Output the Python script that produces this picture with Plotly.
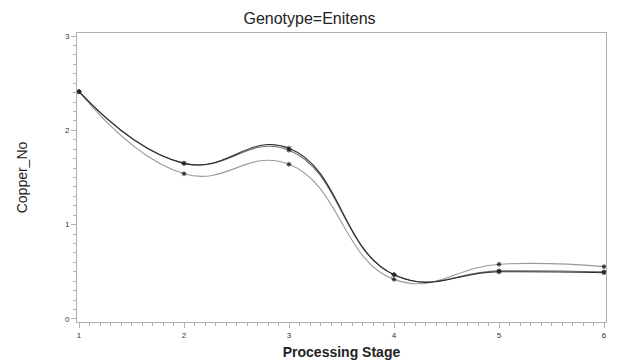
import plotly.graph_objects as go

# Mean copper number per processing stage, one line per group
stages = [1, 2, 3, 4, 5, 6]
series_a = [2.41, 1.65, 1.81, 0.47, 0.50, 0.49]
series_b = [2.41, 1.65, 1.79, 0.47, 0.51, 0.50]
series_c = [2.41, 1.54, 1.64, 0.42, 0.58, 0.555]

line_colors = ["#2a2a2a", "#707070", "#9a9a9a"]

fig = go.Figure()
for vals, col in zip([series_c, series_b, series_a], line_colors[::-1]):
    fig.add_trace(go.Scatter(
        x=stages, y=vals, mode="lines+markers",
        line=dict(color=col, width=1.1, shape="spline", smoothing=1.3),
        marker=dict(symbol="asterisk-open", size=4, color="#222",
                    line=dict(width=1, color="#222")),
        showlegend=False,
    ))

axis_common = dict(
    showline=True, linecolor="#b0b0b0", linewidth=1, mirror=True,
    showgrid=False, zeroline=False, automargin=False,
    ticks="outside", ticklen=5, tickcolor="#b0b0b0", tickwidth=1,
    tickfont=dict(family="Arial, Liberation Sans, sans-serif", size=8, color="#333"),
)

fig.update_layout(
    width=619, height=363,
    margin=dict(l=77, r=13, t=33, b=41),
    paper_bgcolor="white", plot_bgcolor="white",
    title=dict(text="Genotype=Enitens", x=0.5, xanchor="center",
               y=1 - 18 / 363, yanchor="middle",
               font=dict(family="Arial, Liberation Sans, sans-serif", size=16, color="#222")),
    xaxis=dict(
        range=[0.981, 6.019], tickmode="array", tickvals=stages,
        minor=dict(dtick=0.1, ticks="outside", ticklen=3, tickcolor="#b0b0b0"),
        title=dict(text="<b>Processing Stage</b>", standoff=8,
                   font=dict(family="Arial, Liberation Sans, sans-serif", size=14, color="#222")),
        **axis_common,
    ),
    yaxis=dict(
        range=[-0.032, 3.032], tickmode="array", tickvals=[0, 1, 2, 3],
        minor=dict(dtick=0.1, ticks="outside", ticklen=3, tickcolor="#b0b0b0"),
        title=dict(text="Copper_No", standoff=34,
                   font=dict(family="Arial, Liberation Sans, sans-serif", size=14, color="#222")),
        **axis_common,
    ),
)

fig.write_html("out.html")
